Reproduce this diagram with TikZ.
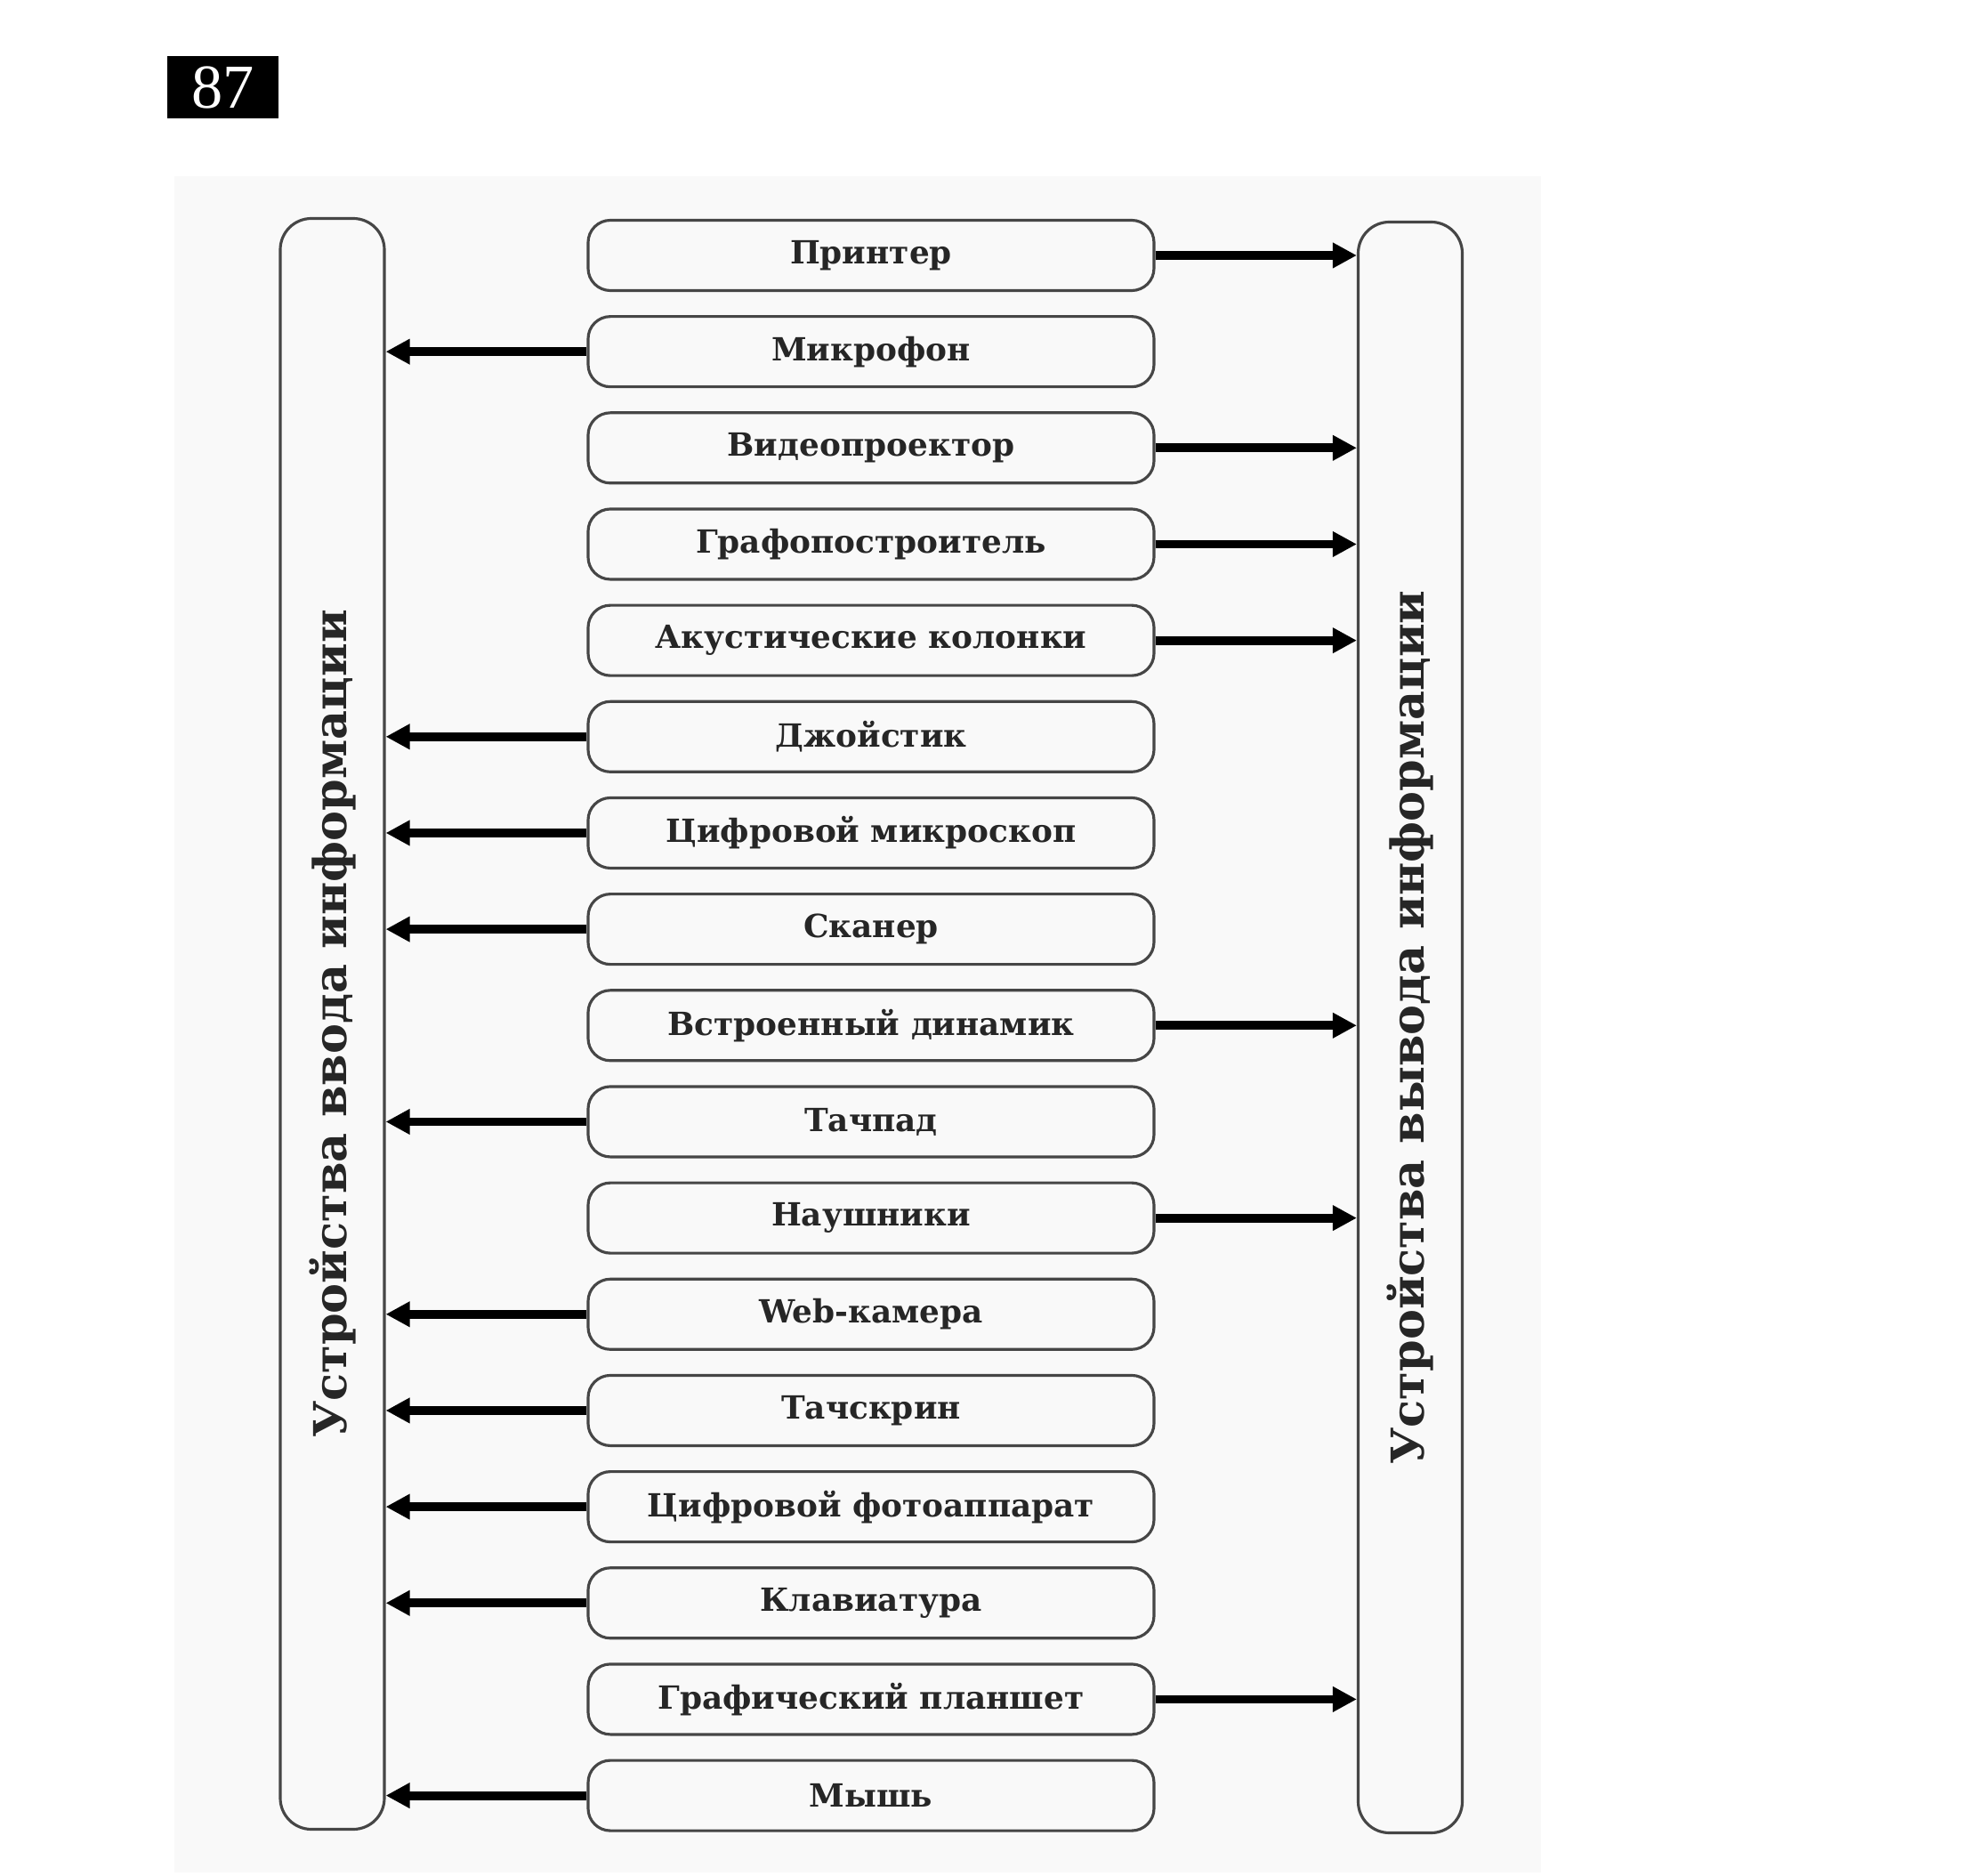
\documentclass[tikz,border=0pt]{standalone}
\usepackage{fontspec}
\setmainfont{DejaVu Serif}
\newfontfamily\numfont{Liberation Serif}
\usetikzlibrary{arrows.meta,positioning}
\definecolor{scangray}{RGB}{249,249,249}
\definecolor{framegray}{RGB}{70,70,70}

\begin{document}
\begin{tikzpicture}[
    node distance=0.26cm,
    device/.style={rectangle, draw=framegray, line width=0.9pt, rounded corners=0.25cm, minimum width=6.36cm, minimum height=0.79cm, inner sep=0pt, font=\bfseries\fontsize{10.2}{12}\selectfont, text=black!85},
    column/.style={rectangle, draw=framegray, line width=0.9pt, rounded corners=0.35cm, minimum width=1.17cm, minimum height=18.1cm},
    columntext/.style={rotate=90, font=\bfseries\fontsize{14.5}{17}\selectfont, text=black!85},
    feed/.style={-{Triangle[length=7.7pt,width=7.7pt]}, line width=2.8pt}
]
    \useasboundingbox (0,0) rectangle (22.22,-21.08);
    \fill[scangray] (1.96,-1.98) rectangle (17.32,-21.04);

    % Number
    \node[fill=black, text=white, minimum width=1.25cm, minimum height=0.7cm, inner sep=0pt, font=\numfont\fontsize{20}{22}\selectfont] (num) at (2.505,-0.98) {87};

    % Columns
    \node[column] (inbox) at (3.735,-11.505) {};
    \node[columntext] (intext) at (inbox) {Устройства ввода информации};
    \node[column] (outbox) at (15.85,-11.545) {};
    \node[columntext] (outtext) at (outbox) {Устройства вывода информации};

    % Devices
    \node[device] (printer) at (9.79,-2.87) {Принтер};
    \node[device, below=of printer] (mic) {Микрофон};
    \node[device, below=of mic] (projector) {Видеопроектор};
    \node[device, below=of projector] (plotter) {Графопостроитель};
    \node[device, below=of plotter] (speakers) {Акустические колонки};
    \node[device, below=of speakers] (joystick) {Джойстик};
    \node[device, below=of joystick] (microscope) {Цифровой микроскоп};
    \node[device, below=of microscope] (scanner) {Сканер};
    \node[device, below=of scanner] (builtin) {Встроенный динамик};
    \node[device, below=of builtin] (touchpad) {Тачпад};
    \node[device, below=of touchpad] (phones) {Наушники};
    \node[device, below=of phones] (webcam) {Web-камера};
    \node[device, below=of webcam] (touchscreen) {Тачскрин};
    \node[device, below=of touchscreen] (camera) {Цифровой фотоаппарат};
    \node[device, below=of camera] (keyboard) {Клавиатура};
    \node[device, below=of keyboard] (tablet) {Графический планшет};
    \node[device, below=of tablet] (mouse) {Мышь};

    % Input
    \draw[feed] (mic.west) -- (mic.west -| inbox.east);
    \draw[feed] (joystick.west) -- (joystick.west -| inbox.east);
    \draw[feed] (microscope.west) -- (microscope.west -| inbox.east);
    \draw[feed] (scanner.west) -- (scanner.west -| inbox.east);
    \draw[feed] (touchpad.west) -- (touchpad.west -| inbox.east);
    \draw[feed] (webcam.west) -- (webcam.west -| inbox.east);
    \draw[feed] (touchscreen.west) -- (touchscreen.west -| inbox.east);
    \draw[feed] (camera.west) -- (camera.west -| inbox.east);
    \draw[feed] (keyboard.west) -- (keyboard.west -| inbox.east);
    \draw[feed] (mouse.west) -- (mouse.west -| inbox.east);

    % Output
    \draw[feed] (printer.east) -- (printer.east -| outbox.west);
    \draw[feed] (projector.east) -- (projector.east -| outbox.west);
    \draw[feed] (plotter.east) -- (plotter.east -| outbox.west);
    \draw[feed] (speakers.east) -- (speakers.east -| outbox.west);
    \draw[feed] (builtin.east) -- (builtin.east -| outbox.west);
    \draw[feed] (phones.east) -- (phones.east -| outbox.west);
    \draw[feed] (tablet.east) -- (tablet.east -| outbox.west);
\end{tikzpicture}
\end{document}
